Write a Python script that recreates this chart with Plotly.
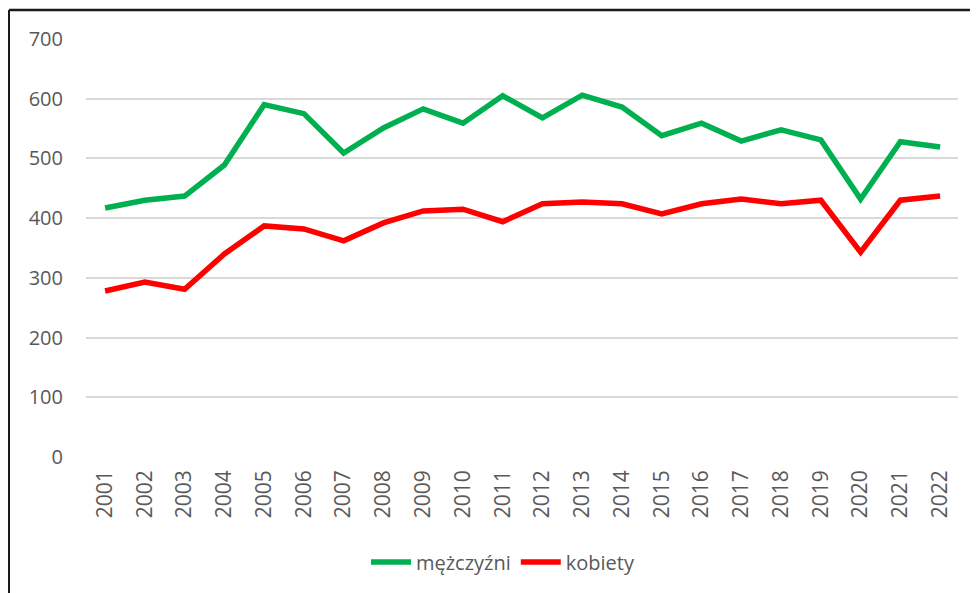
import plotly.graph_objects as go

years = [str(y) for y in range(2001, 2023)]
mezczyzni = [417, 430, 437, 489, 590, 575, 509, 551, 583, 559, 605, 568, 606, 586, 538, 559, 529, 548, 531, 432, 528, 519]
kobiety = [278, 293, 281, 340, 387, 382, 362, 392, 412, 415, 394, 424, 427, 424, 407, 424, 432, 424, 430, 343, 430, 437]
y_ticks = [0, 100, 200, 300, 400, 500, 600, 700]

W, H = 978, 593
OFF = 8  # page body offset
L, R, T, B = 86 - OFF, 978 - (958 - OFF), 39 - OFF, H - (457 - OFF)
pw, ph = W - L - R, H - T - B

def px_x(px):
    return (px - OFF - L) / pw

def px_y(py):
    return (H - B - (py - OFF)) / ph

fig = go.Figure()
fig.add_trace(go.Scatter(x=years, y=mezczyzni, name="mężczyźni", mode="lines",
                         line=dict(color="#00B050", width=5.5)))
fig.add_trace(go.Scatter(x=years, y=kobiety, name="kobiety", mode="lines",
                         line=dict(color="#FF0000", width=5.5)))

font_fam = "Open Sans, Liberation Sans, sans-serif"
fig.update_layout(
    width=W, height=H,
    margin=dict(l=L, r=R, t=T, b=B, autoexpand=False),
    paper_bgcolor="white", plot_bgcolor="white",
    font=dict(family=font_fam, color="#595959", size=18),
    showlegend=True,
    legend=dict(orientation="h", x=px_x(503), xanchor="center", y=px_y(562), yanchor="middle",
                font=dict(size=20, color="#595959"), itemwidth=40, tracegroupgap=0),
    xaxis=dict(type="category", range=[-0.48, 21.45], tickangle=-90, showgrid=False,
               zeroline=False, showline=False, ticks="",
               tickfont=dict(size=21, color="#595959"),
               ticklabelstandoff=8, fixedrange=True),
    yaxis=dict(range=[0, 700], tickvals=y_ticks, showgrid=True, gridcolor="#D9D9D9",
               gridwidth=1.5, zeroline=False, showline=False, ticks="",
               tickfont=dict(size=20, color="#595959"), ticklabelstandoff=22,
               fixedrange=True),
    shapes=[
        dict(type="line", xref="paper", yref="paper", x0=px_x(9), x1=px_x(9),
             y0=px_y(10), y1=px_y(620), line=dict(color="#1a1a1a", width=2)),
        dict(type="line", xref="paper", yref="paper", x0=px_x(9), x1=px_x(1000),
             y0=px_y(10), y1=px_y(10), line=dict(color="#1a1a1a", width=2.5)),
    ],
)

fig.write_html("out.html")
